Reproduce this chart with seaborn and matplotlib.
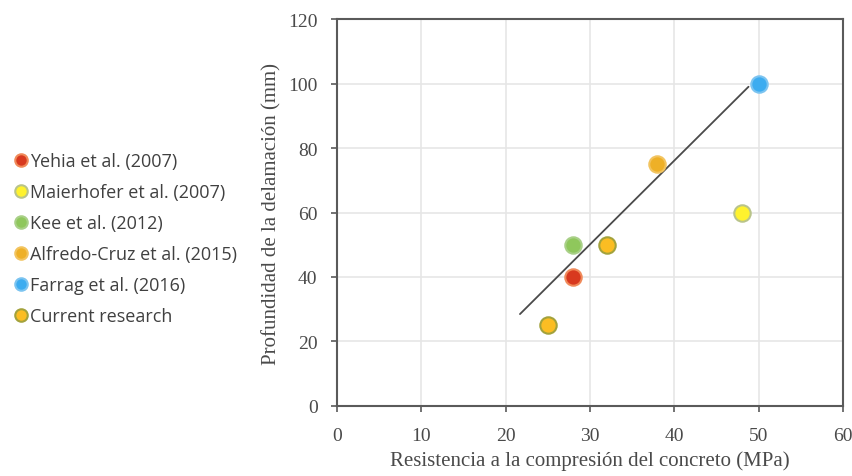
import pandas as pd
import matplotlib.pyplot as plt
import seaborn as sns
from matplotlib.lines import Line2D

# Data
studies = ["Yehia et al. (2007)", "Maierhofer et al. (2007)", "Kee et al. (2012)",
           "Alfredo-Cruz et al. (2015)", "Farrag et al. (2016)", "Current research"]
resistencia = [28, 48, 28, 38, 50, 25, 32]
profundidad = [40, 60, 50, 75, 100, 25, 50]
fuente = ["Yehia et al. (2007)", "Maierhofer et al. (2007)", "Kee et al. (2012)",
          "Alfredo-Cruz et al. (2015)", "Farrag et al. (2016)",
          "Current research", "Current research"]
trend_x = [21.7, 48.8]
trend_y = [28.5, 99.0]

fills = ["#d8391f", "#fff22e", "#8fc75c", "#eeb027", "#3cacf0", "#fbbd23"]
edges = ["#f08a5a", "#b9c48a", "#a9d088", "#f2c460", "#7cc4f0", "#a3a23c"]

df = pd.DataFrame({"x": resistencia, "y": profundidad, "fuente": fuente})

sns.set_style("white")
fig = plt.figure(figsize=(8.52, 4.77), dpi=100)
ax = fig.add_axes([0.3955, 0.1468, 0.5939, 0.8112])

ax.plot(trend_x, trend_y, color="#4a4a4a", lw=1.3, zorder=2)

for name, fc, ec in zip(studies, fills, edges):
    sub = df[df["fuente"] == name]
    sns.scatterplot(data=sub, x="x", y="y", ax=ax, color=fc, edgecolor=ec,
                    linewidth=1.5, s=140, zorder=3, legend=False)

ax.set_xlim(0, 60)
ax.set_ylim(0, 120)
ax.set_xticks(range(0, 61, 10))
ax.set_yticks(range(0, 121, 20))
ax.grid(True, color="#e6e6e6", lw=1.2)
ax.set_axisbelow(True)
for sp in ax.spines.values():
    sp.set_color("#5a5a5a")
    sp.set_linewidth(1.5)
ax.tick_params(axis="both", bottom=True, left=True, direction="out", length=4,
               width=1.2, color="#5a5a5a", labelsize=14, labelcolor="#4a4a4a")
ax.tick_params(axis="x", pad=11)
ax.tick_params(axis="y", pad=10)
for lab in ax.get_xticklabels() + ax.get_yticklabels():
    lab.set_family("Liberation Serif")
ax.set_xlabel("Resistencia a la compresión del concreto (MPa)", family="Liberation Serif",
              fontsize=15, color="#4a4a4a", labelpad=5)
ax.set_ylabel("Profundidad de la delamación (mm)", family="Liberation Serif",
              fontsize=15, color="#4a4a4a", labelpad=5)

handles = [Line2D([], [], marker="o", ls="none", markersize=9, markerfacecolor=fc,
                  markeredgecolor=ec, markeredgewidth=1.5) for fc, ec in zip(fills, edges)]
leg = fig.legend(handles, studies, loc="center left", bbox_to_anchor=(-0.005, 0.498),
                 frameon=False, handletextpad=0.0, handlelength=1.0, labelspacing=0.72,
                 prop={"family": "Open Sans", "size": 13})
for t in leg.get_texts():
    t.set_color("#404040")

fig.savefig("out.png", dpi=100)
